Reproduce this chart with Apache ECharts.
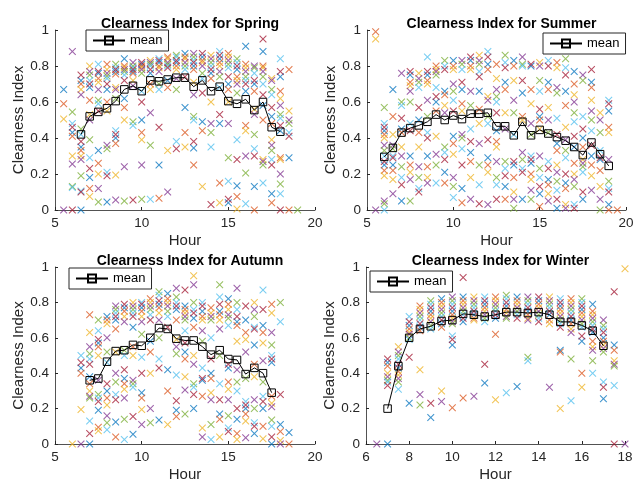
<!DOCTYPE html>
<html>
<head>
<meta charset="utf-8">
<script src="https://cdn.jsdelivr.net/npm/echarts@6/dist/echarts.min.js"></script>
<style>
  html, body { margin: 0; padding: 0; background: #fff; }
  #main { width: 638px; height: 483px; }
</style>
</head>
<body>
<div id="main"></div>
<script>
// hours of day (half-hour steps) and clearness index values seen at each hour
var springHours = [5.5, 6, 6.5, 7, 7.5, 8, 8.5, 9, 9.5, 10, 10.5, 11, 11.5, 12, 12.5, 13, 13.5, 14, 14.5, 15, 15.5, 16, 16.5, 17, 17.5, 18, 18.5, 19];
var springVals = [
    [0.67, 0.59, 0.505, 0],
    [0.88, 0.545, 0.48, 0.46, 0.43, 0.41, 0.30, 0.255, 0.13, 0.125, 0],
    [0.75, 0.72, 0.70, 0.67, 0.64, 0.45, 0.42, 0.38, 0.35, 0.33, 0.30, 0.28, 0.19, 0.105, 0.10, 0],
    [0.80, 0.77, 0.75, 0.72, 0.70, 0.68, 0.61, 0.53, 0.50, 0.39, 0.29, 0.23, 0.18, 0.12, 0.075],
    [0.81, 0.77, 0.76, 0.73, 0.71, 0.67, 0.61, 0.59, 0.55, 0.33, 0.26, 0.20, 0.12, 0.045],
    [0.81, 0.78, 0.76, 0.745, 0.73, 0.70, 0.67, 0.60, 0.55, 0.36, 0.34, 0.21, 0.19, 0.045],
    [0.81, 0.79, 0.78, 0.77, 0.755, 0.68, 0.67, 0.62, 0.44, 0.42, 0.40, 0.37, 0.195, 0.055],
    [0.84, 0.80, 0.79, 0.78, 0.77, 0.75, 0.72, 0.62, 0.57, 0.50, 0.24, 0.05],
    [0.82, 0.80, 0.79, 0.78, 0.77, 0.76, 0.72, 0.69, 0.49, 0.47, 0.055],
    [0.82, 0.81, 0.80, 0.79, 0.78, 0.76, 0.66, 0.60, 0.50, 0.43, 0.39, 0.25, 0.06],
    [0.83, 0.82, 0.81, 0.80, 0.78, 0.76, 0.70, 0.67, 0.54, 0.36, 0.06],
    [0.84, 0.83, 0.82, 0.80, 0.79, 0.77, 0.70, 0.67, 0.46, 0.25, 0.065],
    [0.85, 0.84, 0.82, 0.81, 0.80, 0.79, 0.72, 0.68, 0.33, 0.10],
    [0.86, 0.85, 0.83, 0.82, 0.80, 0.78, 0.73, 0.67, 0.38, 0.34],
    [0.87, 0.85, 0.84, 0.82, 0.80, 0.78, 0.74, 0.57, 0.43, 0.35],
    [0.87, 0.85, 0.83, 0.82, 0.80, 0.78, 0.71, 0.64, 0.52, 0.50, 0.38, 0.345, 0.25],
    [0.87, 0.85, 0.83, 0.82, 0.80, 0.76, 0.73, 0.65, 0.49, 0.44, 0.13],
    [0.86, 0.84, 0.82, 0.80, 0.78, 0.76, 0.73, 0.60, 0.48, 0.43, 0.35, 0.03],
    [0.88, 0.86, 0.84, 0.82, 0.80, 0.77, 0.74, 0.68, 0.53, 0.48, 0.15, 0.04],
    [0.87, 0.85, 0.83, 0.81, 0.79, 0.74, 0.70, 0.67, 0.60, 0.48, 0.29, 0.16, 0.06, 0.04],
    [0.84, 0.82, 0.80, 0.78, 0.74, 0.72, 0.70, 0.65, 0.39, 0.28, 0.135, 0.075, 0.005],
    [0.91, 0.81, 0.79, 0.77, 0.74, 0.72, 0.70, 0.66, 0.47, 0.44, 0.30, 0.205, 0.035],
    [0.80, 0.79, 0.76, 0.72, 0.70, 0.66, 0.56, 0.53, 0.42, 0.34, 0.30, 0.13, 0],
    [0.95, 0.88, 0.80, 0.79, 0.77, 0.74, 0.70, 0.64, 0.58, 0.50, 0.28, 0.27, 0.25, 0.15],
    [0.73, 0.72, 0.67, 0.64, 0.57, 0.52, 0.48, 0.39, 0.36, 0.33, 0.28, 0.25, 0.09, 0.04],
    [0.84, 0.77, 0.74, 0.66, 0.62, 0.58, 0.53, 0.51, 0.47, 0.44, 0.29, 0.28, 0.20, 0.145, 0.09, 0],
    [0.78, 0.55, 0.50, 0.48, 0.43, 0.41, 0.29, 0],
    [0]
];
var springMeanHours = [6.5, 7, 7.5, 8, 8.5, 9, 9.5, 10, 10.5, 11, 11.5, 12, 12.5, 13, 13.5, 14, 14.5, 15, 15.5, 16, 16.5, 17, 17.5, 18];
var springMean = [0.42, 0.52, 0.545, 0.565, 0.605, 0.67, 0.69, 0.66, 0.72, 0.715, 0.725, 0.735, 0.735, 0.685, 0.72, 0.66, 0.685, 0.605, 0.59, 0.615, 0.555, 0.60, 0.46, 0.435];

var summerHours = [5.5, 6, 6.5, 7, 7.5, 8, 8.5, 9, 9.5, 10, 10.5, 11, 11.5, 12, 12.5, 13, 13.5, 14, 14.5, 15, 15.5, 16, 16.5, 17, 17.5, 18, 18.5, 19, 19.5];
var summerVals = [
    [0.99, 0.95, 0],
    [0.57, 0.48, 0.46, 0.44, 0.42, 0.40, 0.36, 0.33, 0.30, 0.27, 0.25, 0.22, 0.19, 0.05, 0.035, 0],
    [0.67, 0.52, 0.42, 0.36, 0.34, 0.30, 0.29, 0.25, 0.22, 0.17, 0.09],
    [0.76, 0.60, 0.58, 0.51, 0.45, 0.43, 0.35, 0.30, 0.24, 0.18, 0.14, 0.05],
    [0.77, 0.75, 0.71, 0.69, 0.66, 0.60, 0.48, 0.44, 0.30, 0.25, 0.21, 0.17, 0.05],
    [0.76, 0.73, 0.71, 0.68, 0.57, 0.50, 0.43, 0.35, 0.24, 0.18, 0.12, 0.10],
    [0.85, 0.77, 0.75, 0.72, 0.70, 0.61, 0.52, 0.43, 0.40, 0.30, 0.24, 0.18, 0.15],
    [0.80, 0.78, 0.77, 0.75, 0.68, 0.63, 0.60, 0.55, 0.41, 0.31, 0.25, 0.15],
    [0.83, 0.80, 0.78, 0.66, 0.64, 0.58, 0.54, 0.35, 0.32, 0.28, 0.21, 0.15],
    [0.83, 0.80, 0.78, 0.70, 0.66, 0.61, 0.55, 0.41, 0.37, 0.31, 0.18, 0.13, 0.07],
    [0.83, 0.81, 0.78, 0.71, 0.67, 0.59, 0.55, 0.42, 0.40, 0.34, 0.25, 0.12, 0.04],
    [0.85, 0.83, 0.80, 0.78, 0.66, 0.58, 0.45, 0.38, 0.32, 0.27, 0.18, 0.06],
    [0.86, 0.83, 0.81, 0.77, 0.74, 0.66, 0.56, 0.48, 0.37, 0.25, 0.14, 0.035],
    [0.88, 0.85, 0.81, 0.78, 0.63, 0.61, 0.52, 0.48, 0.39, 0.29, 0.25, 0.21, 0.03],
    [0.81, 0.73, 0.67, 0.63, 0.60, 0.54, 0.44, 0.38, 0.35, 0.27, 0.18, 0.14, 0.06],
    [0.86, 0.82, 0.79, 0.71, 0.67, 0.54, 0.45, 0.27, 0.23, 0.19, 0.13, 0.06],
    [0.83, 0.80, 0.72, 0.61, 0.54, 0.42, 0.27, 0.25, 0.18, 0.10, 0.06, 0.01],
    [0.85, 0.81, 0.80, 0.72, 0.65, 0.52, 0.50, 0.32, 0.28, 0.23, 0.21, 0.06],
    [0.81, 0.80, 0.67, 0.59, 0.48, 0.42, 0.30, 0.28, 0.26, 0.20, 0.17, 0.11, 0.06],
    [0.82, 0.80, 0.72, 0.66, 0.56, 0.52, 0.50, 0.45, 0.30, 0.23, 0.18, 0.13, 0.09, 0.02],
    [0.83, 0.80, 0.71, 0.67, 0.57, 0.50, 0.43, 0.27, 0.23, 0.17, 0.14, 0.09, 0.05],
    [0.82, 0.79, 0.68, 0.65, 0.51, 0.42, 0.37, 0.33, 0.25, 0.21, 0.16, 0.11, 0.06, 0.01],
    [0.84, 0.79, 0.75, 0.66, 0.58, 0.46, 0.39, 0.33, 0.29, 0.20, 0.15, 0.12, 0.03, 0.01],
    [0.77, 0.70, 0.64, 0.60, 0.54, 0.49, 0.41, 0.35, 0.26, 0.20, 0.17, 0.13, 0.03, 0.01],
    [0.75, 0.72, 0.52, 0.45, 0.40, 0.35, 0.28, 0.26, 0.24, 0.21, 0.10, 0.06],
    [0.78, 0.71, 0.68, 0.61, 0.55, 0.50, 0.44, 0.36, 0.30, 0.25, 0.19, 0.11],
    [0.54, 0.50, 0.43, 0.33, 0.29, 0.28, 0.22, 0.13, 0.06, 0],
    [0.61, 0.59, 0.55, 0.46, 0.43, 0.28, 0.16, 0.12, 0.10, 0.03, 0],
    [0]
];
var summerMeanHours = [6, 6.5, 7, 7.5, 8, 8.5, 9, 9.5, 10, 10.5, 11, 11.5, 12, 12.5, 13, 13.5, 14, 14.5, 15, 15.5, 16, 16.5, 17, 17.5, 18, 18.5, 19];
var summerMean = [0.295, 0.345, 0.43, 0.455, 0.47, 0.49, 0.53, 0.50, 0.525, 0.505, 0.535, 0.535, 0.54, 0.465, 0.465, 0.415, 0.49, 0.415, 0.445, 0.425, 0.405, 0.385, 0.35, 0.305, 0.375, 0.31, 0.245];

var autumnHours = [6, 6.5, 7, 7.5, 8, 8.5, 9, 9.5, 10, 10.5, 11, 11.5, 12, 12.5, 13, 13.5, 14, 14.5, 15, 15.5, 16, 16.5, 17, 17.5, 18, 18.5];
var autumnVals = [
    [0],
    [0.50, 0.46, 0.43, 0.40, 0.195, 0],
    [0.73, 0.63, 0.55, 0.51, 0.48, 0.45, 0.38, 0.34, 0.30, 0.27, 0.26, 0.13, 0.06, 0],
    [0.70, 0.64, 0.59, 0.57, 0.55, 0.50, 0.36, 0.28, 0.26, 0.24, 0.19, 0.095, 0.075],
    [0.72, 0.70, 0.68, 0.60, 0.52, 0.46, 0.34, 0.30, 0.26, 0.22, 0.16, 0.12, 0.08],
    [0.78, 0.76, 0.74, 0.72, 0.70, 0.65, 0.52, 0.40, 0.35, 0.28, 0.25, 0.125, 0.04],
    [0.79, 0.77, 0.75, 0.72, 0.69, 0.53, 0.50, 0.42, 0.37, 0.34, 0.31, 0.26, 0.14, 0.025],
    [0.80, 0.78, 0.76, 0.74, 0.72, 0.66, 0.55, 0.50, 0.36, 0.34, 0.32, 0.155, 0.055],
    [0.80, 0.79, 0.77, 0.75, 0.72, 0.69, 0.62, 0.49, 0.40, 0.29, 0.26, 0.195, 0.11],
    [0.82, 0.80, 0.78, 0.76, 0.73, 0.70, 0.58, 0.52, 0.40, 0.20, 0.12],
    [0.86, 0.84, 0.81, 0.79, 0.77, 0.74, 0.70, 0.60, 0.48, 0.43, 0.135],
    [0.85, 0.82, 0.80, 0.78, 0.75, 0.72, 0.66, 0.42, 0.30, 0.11],
    [0.88, 0.83, 0.80, 0.78, 0.76, 0.70, 0.59, 0.55, 0.51, 0.39, 0.245, 0.19, 0.155],
    [0.87, 0.78, 0.76, 0.74, 0.72, 0.70, 0.64, 0.57, 0.52, 0.48, 0.38, 0.305, 0.17],
    [0.95, 0.90, 0.80, 0.76, 0.74, 0.71, 0.66, 0.50, 0.45, 0.34, 0.32, 0.28, 0.20],
    [0.80, 0.78, 0.75, 0.72, 0.70, 0.64, 0.58, 0.43, 0.37, 0.36, 0.27, 0.09, 0.04],
    [0.77, 0.74, 0.72, 0.70, 0.60, 0.48, 0.40, 0.37, 0.29, 0.25, 0.11, 0.025],
    [0.90, 0.83, 0.79, 0.75, 0.73, 0.70, 0.65, 0.50, 0.34, 0.25, 0.17, 0.14, 0.04],
    [0.82, 0.79, 0.76, 0.73, 0.71, 0.67, 0.45, 0.43, 0.35, 0.31, 0.25, 0.16, 0.09, 0.07],
    [0.88, 0.80, 0.76, 0.72, 0.69, 0.67, 0.58, 0.42, 0.35, 0.30, 0.20, 0.14, 0.06, 0.025],
    [0.78, 0.70, 0.63, 0.59, 0.52, 0.37, 0.24, 0.22, 0.20, 0.17, 0.13, 0.035],
    [0.80, 0.76, 0.72, 0.66, 0.65, 0.56, 0.45, 0.38, 0.25, 0.20, 0.12, 0.10, 0.06],
    [0.87, 0.76, 0.67, 0.63, 0.57, 0.47, 0.35, 0.27, 0.24, 0.20, 0.10, 0.03],
    [0.79, 0.74, 0.63, 0.56, 0.50, 0.48, 0.46, 0.27, 0.23, 0.21, 0.135, 0.10, 0.04, 0],
    [0.80, 0.69, 0.28, 0.11, 0.07, 0.02, 0],
    [0.065, 0]
];
var autumnMeanHours = [7, 7.5, 8, 8.5, 9, 9.5, 10, 10.5, 11, 11.5, 12, 12.5, 13, 13.5, 14, 14.5, 15, 15.5, 16, 16.5, 17, 17.5];
var autumnMean = [0.36, 0.37, 0.465, 0.525, 0.53, 0.56, 0.555, 0.60, 0.655, 0.65, 0.595, 0.585, 0.585, 0.55, 0.505, 0.53, 0.48, 0.475, 0.395, 0.43, 0.40, 0.29];

var winterHours = [6.5, 7, 7.5, 8, 8.5, 9, 9.5, 10, 10.5, 11, 11.5, 12, 12.5, 13, 13.5, 14, 14.5, 15, 15.5, 16, 16.5, 17, 17.5, 18];
var winterVals = [
    [0],
    [0.48, 0.46, 0.44, 0.40, 0.38, 0.36, 0.35, 0.33, 0],
    [0.55, 0.52, 0.50, 0.48, 0.45, 0.43, 0.41, 0.39, 0.37, 0.35, 0.31],
    [0.72, 0.69, 0.67, 0.65, 0.63, 0.62, 0.60, 0.59, 0.49, 0.23],
    [0.78, 0.76, 0.74, 0.72, 0.70, 0.68, 0.66, 0.64, 0.42, 0.28, 0.22],
    [0.81, 0.79, 0.77, 0.75, 0.73, 0.71, 0.69, 0.67, 0.65, 0.23, 0.15],
    [0.82, 0.80, 0.78, 0.76, 0.74, 0.72, 0.70, 0.68, 0.66, 0.30, 0.24],
    [0.83, 0.81, 0.79, 0.77, 0.75, 0.73, 0.71, 0.69, 0.68, 0.61, 0.59, 0.56, 0.205],
    [0.94, 0.83, 0.81, 0.79, 0.77, 0.75, 0.73, 0.71, 0.69, 0.26],
    [0.83, 0.81, 0.79, 0.77, 0.75, 0.73, 0.71, 0.70, 0.27],
    [0.83, 0.81, 0.79, 0.77, 0.75, 0.73, 0.71, 0.69, 0.45, 0.345],
    [0.83, 0.81, 0.79, 0.77, 0.75, 0.73, 0.71, 0.62, 0.25],
    [0.84, 0.82, 0.80, 0.78, 0.76, 0.74, 0.72, 0.71, 0.29],
    [0.83, 0.81, 0.79, 0.77, 0.75, 0.73, 0.71, 0.325],
    [0.83, 0.81, 0.79, 0.77, 0.75, 0.73, 0.71, 0.70, 0.49, 0.47],
    [0.83, 0.81, 0.79, 0.77, 0.75, 0.73, 0.71, 0.69],
    [0.83, 0.81, 0.79, 0.77, 0.75, 0.73, 0.70, 0.68, 0.32],
    [0.82, 0.80, 0.78, 0.76, 0.74, 0.72, 0.70, 0.68, 0.66, 0.53, 0.52, 0.20],
    [0.82, 0.80, 0.78, 0.76, 0.74, 0.72, 0.70, 0.68, 0.65, 0.63, 0.48, 0.245],
    [0.82, 0.80, 0.78, 0.76, 0.74, 0.72, 0.70, 0.68, 0.66, 0.61, 0.58, 0.40, 0.32],
    [0.79, 0.75, 0.73, 0.71, 0.69, 0.67, 0.65, 0.63, 0.58, 0.55, 0.53, 0.47, 0.40],
    [0.70, 0.67, 0.65, 0.63, 0.60, 0.58, 0.56, 0.54, 0.52, 0.35, 0.32, 0.255],
    [0.86, 0.56, 0.53, 0.47, 0.45, 0.44, 0.33, 0],
    [0.99, 0]
];
var winterMeanHours = [7, 7.5, 8, 8.5, 9, 9.5, 10, 10.5, 11, 11.5, 12, 12.5, 13, 13.5, 14, 14.5, 15, 15.5, 16, 16.5, 17];
var winterMean = [0.20, 0.44, 0.60, 0.65, 0.665, 0.695, 0.70, 0.735, 0.73, 0.72, 0.73, 0.745, 0.745, 0.74, 0.745, 0.73, 0.69, 0.69, 0.67, 0.64, 0.555];

var seasonNames = ['Spring', 'Summer', 'Autumn', 'Winter'];
var colors = ['#0072BD', '#D95319', '#EDB120', '#7E2F8E', '#77AC30', '#4DBEEE', '#A2142F'];
var cross = 'path://M0,1L1,0L5,4L9,0L10,1L6,5L10,9L9,10L5,6L1,10L0,9L4,5Z';
var font = 'Liberation Sans';
var ink = '#262626';

var grids = [
    { left: 55, top: 30, width: 260, height: 180 },
    { left: 367, top: 30, width: 259, height: 180 },
    { left: 55, top: 267, width: 260, height: 180 },
    { left: 366, top: 267, width: 259, height: 180 }
];
var xRanges = [[5, 20, 5], [5, 20, 5], [5, 20, 5], [6, 18, 2]];
var legendPos = [[86, 30], [543, 33], [69, 268], [370, 271]];

var seasons = [
    [springHours, springVals, springMeanHours, springMean],
    [summerHours, summerVals, summerMeanHours, summerMean],
    [autumnHours, autumnVals, autumnMeanHours, autumnMean],
    [winterHours, winterVals, winterMeanHours, winterMean]
];

var series = [];
seasons.forEach(function (s, g) {
    var groups = [[], [], [], [], [], [], []];
    s[0].forEach(function (h, k) {
        s[1][k].forEach(function (v, j) {
            groups[(j + k * 3 + g) % 7].push([h, v]);
        });
    });
    groups.forEach(function (d, c) {
        series.push({
            type: 'scatter', xAxisIndex: g, yAxisIndex: g,
            symbol: cross, symbolSize: 7.5,
            itemStyle: { color: colors[c], opacity: 0.75 },
            data: d, silent: true, z: 2
        });
    });
    series.push({
        name: 'mean', type: 'line', xAxisIndex: g, yAxisIndex: g,
        symbol: 'rect', symbolSize: 7.5,
        lineStyle: { color: '#000', width: 1 },
        itemStyle: { color: 'rgba(0,0,0,0)', borderColor: '#000', borderWidth: 1 },
        data: s[2].map(function (h, i) { return [h, s[3][i]]; }),
        z: 5
    });
});

var option = {
    animation: false,
    backgroundColor: '#fff',
    textStyle: { fontFamily: font },
    title: grids.map(function (gr, i) {
        return {
            text: 'Clearness Index for ' + seasonNames[i],
            left: gr.left + gr.width / 2, top: i < 2 ? 12 : 249,
            textAlign: 'center',
            textStyle: { fontFamily: font, fontSize: 14, fontWeight: 'bold', color: '#000' }
        };
    }),
    legend: legendPos.map(function (p) {
        return {
            data: ['mean'], left: p[0], top: p[1],
            orient: 'vertical',
            padding: [4, 6, 4, 6],
            borderColor: ink, borderWidth: 1,
            itemWidth: 32, itemHeight: 10,
            textStyle: { fontFamily: font, fontSize: 13, color: '#000' },
            selectedMode: false
        };
    }),
    grid: grids,
    xAxis: grids.map(function (gr, i) {
        return {
            type: 'value', gridIndex: i,
            min: xRanges[i][0], max: xRanges[i][1], interval: xRanges[i][2],
            name: 'Hour', nameLocation: 'middle', nameGap: 23,
            nameTextStyle: { fontFamily: font, fontSize: 15, color: ink },
            axisLine: { lineStyle: { color: ink, width: 0.8 } },
            axisTick: { inside: true, length: 3, lineStyle: { color: ink } },
            axisLabel: { fontFamily: font, fontSize: 13.5, color: ink, margin: 6 },
            splitLine: { show: false }
        };
    }),
    yAxis: grids.map(function (gr, i) {
        return {
            type: 'value', gridIndex: i,
            min: 0, max: 1, interval: 0.2,
            name: 'Clearness Index', nameLocation: 'middle', nameGap: 24,
            nameTextStyle: { fontFamily: font, fontSize: 15, color: ink },
            axisLine: { show: true, lineStyle: { color: ink, width: 0.8 } },
            axisTick: { show: true, inside: true, length: 3, lineStyle: { color: ink } },
            axisLabel: { fontFamily: font, fontSize: 13.5, color: ink, margin: 6 },
            splitLine: { show: false }
        };
    }),
    series: series
};

var chart = echarts.init(document.getElementById('main'));
chart.setOption(option);
</script>
</body>
</html>
